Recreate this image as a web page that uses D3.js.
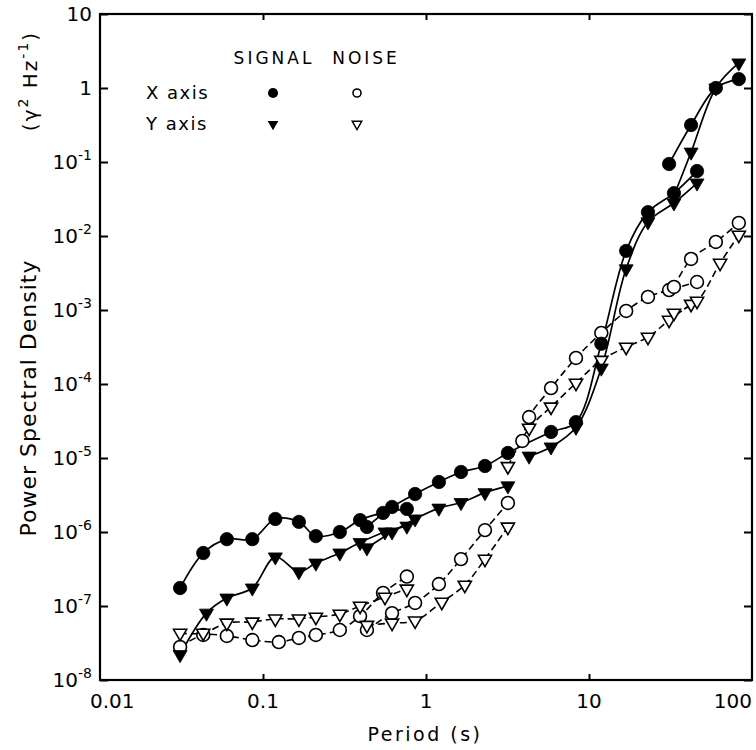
<!DOCTYPE html>
<html lang="en">
<head>
<meta charset="UTF-8">
<title>Power Spectral Density vs Period</title>
<style>
  body { margin: 0; background: #fff; }
  svg { font-family: "DejaVu Sans", sans-serif; }
  .tick line { stroke: #000; stroke-width: 2; }
  .domain { display: none; }
</style>
</head>
<body>
<div id="chart"></div>
<script src="https://d3js.org/d3.v7.min.js"></script>
<script>
// [period (s), PSD (gamma^2 Hz^-1)], one array per spectral segment
const xSignal1 = [[0.031,1.75e-7],[0.043,5.2e-7],[0.060,8.0e-7],[0.086,8.0e-7],[0.119,1.5e-6],[0.166,1.37e-6],
  [0.211,8.8e-7],[0.296,1.0e-6],[0.394,1.45e-6],[0.545,1.81e-6],[0.763,2.05e-6]];
const xSignal2 = [[0.434,1.17e-6],[0.619,2.18e-6],[0.857,3.26e-6],[1.2,4.74e-6],[1.64,6.47e-6],[2.3,7.8e-6],
  [3.18,1.17e-5],[5.85,2.25e-5],[8.32,3.06e-5],[11.9,3.5e-4],[16.9,6.3e-3],[23,2.1e-2],[33.2,3.8e-2],[46,7.55e-2]];
const xSignal3 = [[31,9.4e-2],[42.3,0.316],[60,1.0],[83,1.32]];

const ySignal1 = [[0.031,2.2e-8],[0.045,8.0e-8],[0.060,1.28e-7],[0.086,1.75e-7],[0.119,4.6e-7],[0.166,2.9e-7],
  [0.211,3.8e-7],[0.296,5.2e-7],[0.394,7.2e-7],[0.56,1.0e-6],[0.763,1.2e-6]];
const ySignal2 = [[0.434,6.1e-7],[0.619,1.0e-6],[0.857,1.5e-6],[1.2,2.1e-6],[1.64,2.5e-6],[2.3,3.4e-6],[3.18,4.2e-6]];
const ySignal3 = [[4.29,1.06e-5],[5.85,1.41e-5],[8.32,2.6e-5],[11.9,1.64e-4],[16.9,3.6e-3],[23,1.55e-2],[33.2,2.8e-2],[46,5.2e-2]];
const ySignal4 = [[33.2,3.5e-2],[42.3,0.136],[60,1.0],[83,2.18]];

const xNoise1 = [[0.031,2.8e-8],[0.043,4.06e-8],[0.060,3.94e-8],[0.086,3.47e-8],[0.125,3.26e-8],[0.166,3.7e-8],
  [0.211,4.06e-8],[0.296,4.74e-8],[0.394,7.3e-8],[0.545,1.5e-7],[0.763,2.5e-7]];
const xNoise2 = [[0.434,4.74e-8],[0.619,8.0e-8],[0.857,1.1e-7],[1.2,1.98e-7],[1.64,4.3e-7],[2.3,1.06e-6],[3.18,2.47e-6]];
const xNoise3 = [[3.9,1.7e-5],[4.29,3.58e-5],[5.85,8.8e-5],[8.32,2.25e-4],[11.9,4.9e-4],[16.9,9.7e-4],[23,1.5e-3],[31,1.86e-3],[46,2.39e-3]];
const xNoise4 = [[33.2,2.05e-3],[42.3,4.9e-3],[60,8.3e-3],[83,1.5e-2]];

const yNoise1 = [[0.031,4.3e-8],[0.043,4.3e-8],[0.060,5.9e-8],[0.086,6.1e-8],[0.119,6.7e-8],[0.166,6.7e-8],
  [0.211,7.1e-8],[0.296,7.8e-8],[0.394,1.0e-7],[0.56,1.32e-7],[0.763,1.7e-7]];
const yNoise2 = [[0.434,5.5e-8],[0.619,5.9e-8],[0.857,6.3e-8],[1.25,1.13e-7],[1.73,1.92e-7],[2.3,4.3e-7],[3.18,1.17e-6]];
const yNoise3 = [[3.18,7.7e-6],[4.29,2.54e-5],[5.85,4.9e-5],[8.32,1.03e-4],[11.9,2.1e-4],[16.9,3.16e-4],[23,4.3e-4],[31,7.3e-4],[42.3,1.2e-3]];
const yNoise4 = [[33.2,9.1e-4],[46,1.32e-3],[63.7,4.3e-3],[83,1.03e-2]];

// axis ticks and labels
const xTicks = [0.01, 0.1, 1, 10, 100];
const xTickLabels = ['0.01', '0.1', '1', '10', '100'];
const yTicks = [1e-8, 1e-7, 1e-6, 1e-5, 1e-4, 1e-3, 1e-2, 1e-1, 1, 10];
const yTickBase = ['10', '10', '10', '10', '10', '10', '10', '10', '1', '10'];
const yTickSup = ['-8', '-7', '-6', '-5', '-4', '-3', '-2', '-1', '', ''];

const legendCols = ['SIGNAL', 'NOISE'];
const legendRows = ['X axis', 'Y axis'];

const W = 756, H = 750;
const margin = { top: 14, right: 4, bottom: 70, left: 100 };

const x = d3.scaleLog().domain([0.01, 100]).range([margin.left, W - margin.right]);
const y = d3.scaleLog().domain([1e-8, 10]).range([H - margin.bottom, margin.top]);

const svg = d3.select('#chart').append('svg')
  .attr('width', W)
  .attr('height', H);

// frame
svg.append('rect')
  .attr('x', x(0.01)).attr('y', y(10))
  .attr('width', x(100) - x(0.01)).attr('height', y(1e-8) - y(10))
  .attr('fill', 'none').attr('stroke', '#000').attr('stroke-width', 2.2);

// inward ticks on all four sides
const inner = [0.1, 1, 10];
svg.append('g').attr('transform', `translate(${x(0.01)},0)`)
  .call(d3.axisLeft(y).tickValues(yTicks).tickSize(-8).tickSizeOuter(0).tickFormat(''));
svg.append('g').attr('transform', `translate(${x(100)},0)`)
  .call(d3.axisRight(y).tickValues(yTicks).tickSize(-8).tickSizeOuter(0).tickFormat(''));
svg.append('g').attr('transform', `translate(0,${y(1e-8)})`)
  .call(d3.axisBottom(x).tickValues(inner).tickSize(-6).tickSizeOuter(0).tickFormat(''));
svg.append('g').attr('transform', `translate(0,${y(10)})`)
  .call(d3.axisTop(x).tickValues(inner).tickSize(-6).tickSizeOuter(0).tickFormat(''));

// y tick labels
const yl = svg.append('g').attr('font-size', 20);
yTicks.forEach((v, i) => {
  const t = yl.append('text')
    .attr('x', x(0.01) - 8)
    .attr('y', y(v) + 7)
    .attr('text-anchor', 'end')
    .text(yTickBase[i]);
  if (yTickSup[i]) {
    t.append('tspan').attr('dy', -9).attr('font-size', 14).text(yTickSup[i]);
  }
});

// x tick labels
const xl = svg.append('g').attr('font-size', 20);
xTicks.forEach((v, i) => {
  let anchor = 'middle', px = x(v);
  if (i === 0) { anchor = 'start'; px -= 10; }
  if (i === xTicks.length - 1) anchor = 'end';
  xl.append('text')
    .attr('x', px)
    .attr('y', 708)
    .attr('text-anchor', anchor)
    .text(xTickLabels[i]);
});

// axis titles
svg.append('text')
  .attr('x', (x(0.01) + x(100)) / 2 - 1)
  .attr('y', 741)
  .attr('text-anchor', 'middle')
  .attr('font-size', 19)
  .attr('letter-spacing', 2.5)
  .text('Period (s)');

svg.append('text')
  .attr('transform', 'translate(36,398) rotate(-90)')
  .attr('text-anchor', 'middle')
  .attr('font-size', 22)
  .attr('letter-spacing', 1)
  .text('Power Spectral Density');

const unit = svg.append('text')
  .attr('transform', 'translate(37,81) rotate(-90)')
  .attr('text-anchor', 'middle')
  .attr('font-size', 20)
  .attr('letter-spacing', 2);
unit.append('tspan').text('(γ');
unit.append('tspan').attr('dy', -9).attr('font-size', 14).text('2');
unit.append('tspan').attr('dy', 9).text(' Hz');
unit.append('tspan').attr('dy', -9).attr('font-size', 14).text('-1');
unit.append('tspan').attr('dy', 9).text(')');

// curves
const line = d3.line()
  .x(d => x(d[0]))
  .y(d => y(d[1]))
  .curve(d3.curveCatmullRom.alpha(0.5));

const noise = [xNoise1, xNoise2, xNoise3, xNoise4, yNoise1, yNoise2, yNoise3, yNoise4];
const signal = [xSignal1, xSignal2, xSignal3, ySignal1, ySignal2, ySignal3, ySignal4];

svg.append('g').selectAll('path')
  .data(noise)
  .join('path')
  .attr('d', line)
  .attr('fill', 'none')
  .attr('stroke', '#000')
  .attr('stroke-width', 1.6)
  .attr('stroke-dasharray', '7,4');

svg.append('g').selectAll('path')
  .data(signal)
  .join('path')
  .attr('d', line)
  .attr('fill', 'none')
  .attr('stroke', '#000')
  .attr('stroke-width', 1.7);

// markers
const circle = d3.symbol().type(d3.symbolCircle);
const tri = d3.symbol().type(d3.symbolTriangle);

function drawMarkers(data, kind, filled, size) {
  const gen = kind === 'circle' ? circle.size(size) : tri.size(size);
  const pathStr = gen();
  svg.append('g').selectAll('path')
    .data(data)
    .join('path')
    .attr('d', pathStr)
    .attr('transform', d => `translate(${x(d[0])},${y(d[1])})` + (kind === 'tri' ? ' rotate(180)' : ''))
    .attr('fill', filled ? '#000' : '#fff')
    .attr('stroke', '#000')
    .attr('stroke-width', filled ? 0.8 : 1.6);
}

[xNoise1, xNoise2, xNoise3, xNoise4].forEach(s => drawMarkers(s, 'circle', false, 130));
[yNoise1, yNoise2, yNoise3, yNoise4].forEach(s => drawMarkers(s, 'tri', false, 75));
[ySignal1, ySignal2, ySignal3].forEach(s => drawMarkers(s, 'tri', true, 85));
[xSignal1, xSignal2, xSignal3].forEach(s => drawMarkers(s, 'circle', true, 140));
drawMarkers(ySignal4.slice(1), 'tri', true, 85);

// legend
const lg = svg.append('g').attr('font-size', 17);
const colX = [273, 357];
const rowY = [93, 124];
lg.append('text').attr('x', 274).attr('y', 64).attr('text-anchor', 'middle')
  .attr('letter-spacing', 3).text(legendCols[0]);
lg.append('text').attr('x', 366).attr('y', 64).attr('text-anchor', 'middle')
  .attr('letter-spacing', 3).text(legendCols[1]);
legendRows.forEach((r, i) => {
  lg.append('text').attr('x', 146).attr('y', rowY[i] + 6).attr('font-size', 18)
    .attr('letter-spacing', 1.5).text(r);
});
lg.append('path').attr('d', circle.size(80)()).attr('transform', `translate(${colX[0]},${rowY[0]})`)
  .attr('fill', '#000');
lg.append('path').attr('d', circle.size(50)()).attr('transform', `translate(${colX[1]},${rowY[0]})`)
  .attr('fill', '#fff').attr('stroke', '#000').attr('stroke-width', 1.6);
lg.append('path').attr('d', tri.size(50)()).attr('transform', `translate(${colX[0]},${rowY[1]}) rotate(180)`)
  .attr('fill', '#000');
lg.append('path').attr('d', tri.size(40)()).attr('transform', `translate(${colX[1]},${rowY[1]}) rotate(180)`)
  .attr('fill', '#fff').attr('stroke', '#000').attr('stroke-width', 1.4);
</script>
</body>
</html>
